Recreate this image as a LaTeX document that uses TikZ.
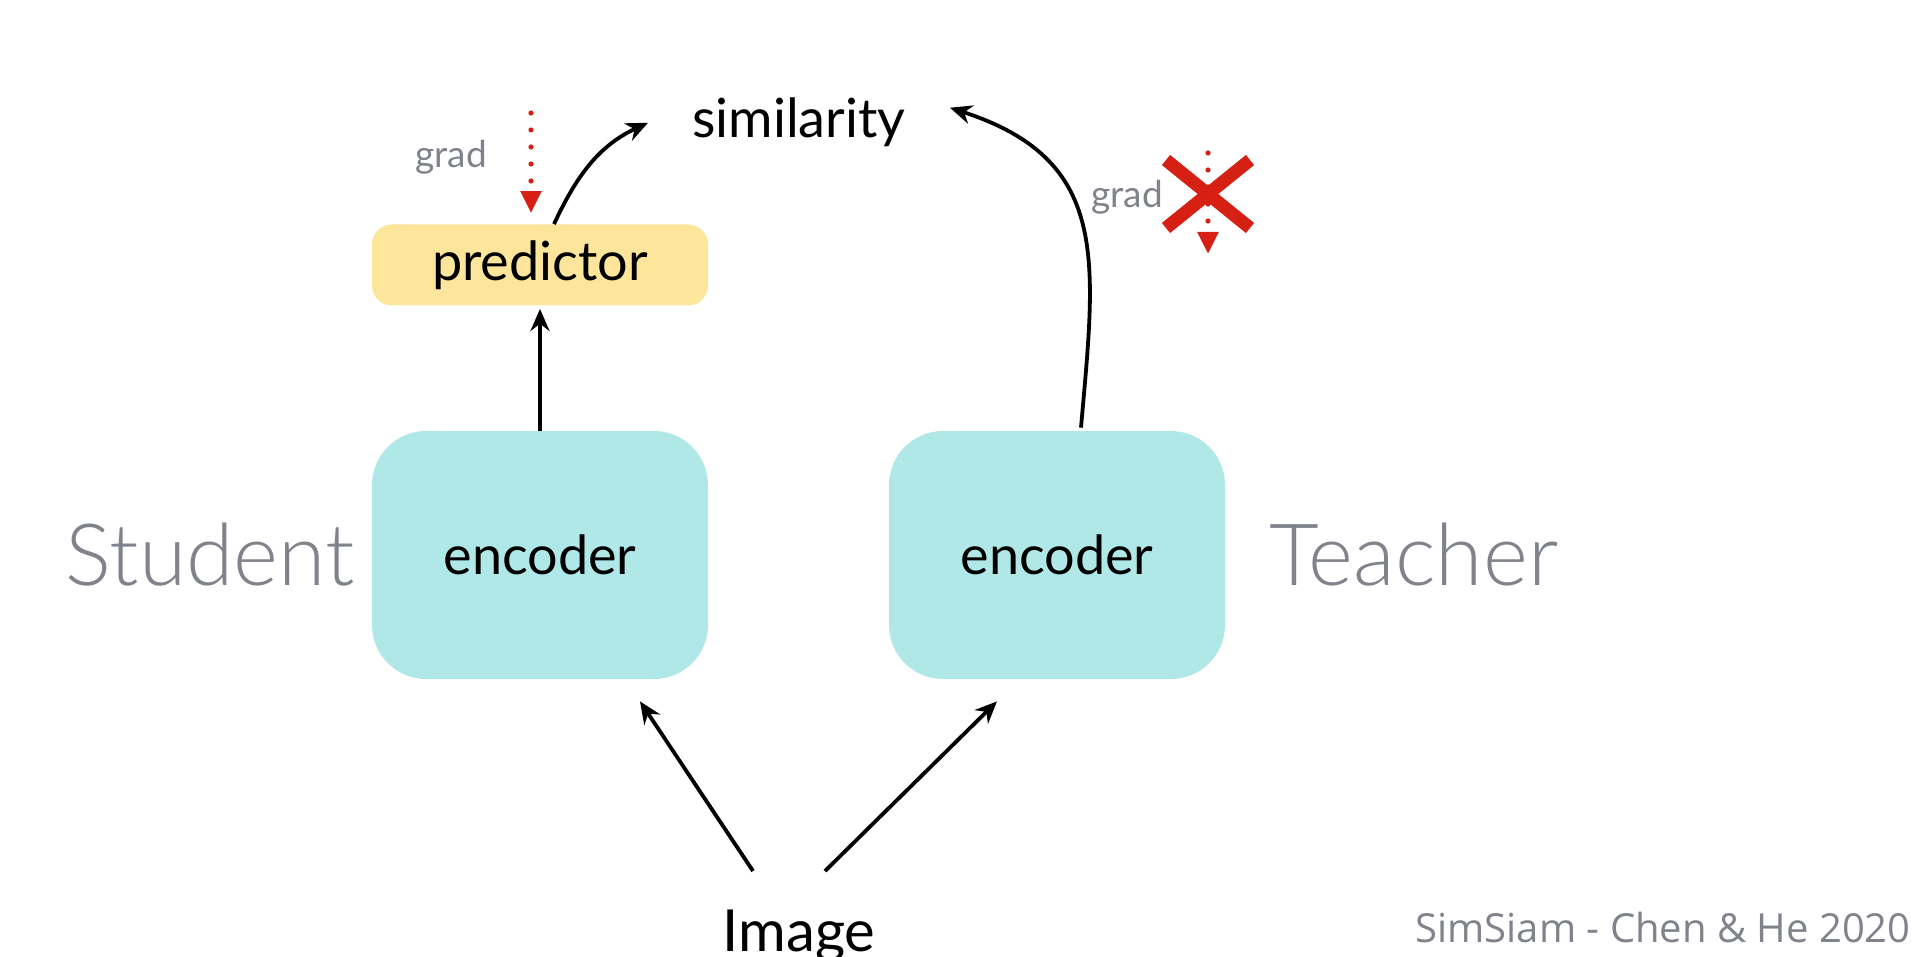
\documentclass[tikz,border=0pt]{standalone}
\usepackage{fontspec}
\setmainfont{Lato}
\newfontfamily\footfont{Open Sans}
\newfontfamily\lightfont{Lato Light}
\usetikzlibrary{arrows.meta,positioning}
\definecolor{encfill}{RGB}{176,231,231}
\definecolor{predfill}{RGB}{253,229,155}
\definecolor{labelgray}{RGB}{128,130,140}
\definecolor{gradred}{RGB}{214,32,20}

\begin{document}
\begin{tikzpicture}
  [x=0.5pt,y=-0.5pt,>={Stealth[length=11pt,width=9.5pt]},
   box/.style={rounded corners=27pt,fill=encfill,minimum width=168pt,minimum height=124pt,
     font=\fontsize{27}{32}\selectfont},
   pred box/.style={box,rounded corners=10pt,fill=predfill,minimum height=40.5pt},
   side label/.style={inner sep=0pt,anchor=base,text=labelgray,font=\lightfont\fontsize{43}{50}\selectfont},
   grad label/.style={inner sep=0pt,anchor=base,text=labelgray,font=\fontsize{18.5}{22}\selectfont},
   flow/.style={->,line width=1.9pt},
   backprop/.style={-{Triangle[length=11pt,width=10pt]},gradred,line width=2.6pt,
     line cap=round,dash pattern=on 0pt off 8.5pt},
   cross/.style={gradred,line width=6.5pt}]

  \useasboundingbox (0,0) rectangle (1918,957);

  % the two branches
  \node [box]      (senc) at (540,555) {encoder};
  \node [box]      (tenc) at (1057,555) {encoder};
  \node [pred box] (pred) at (540,265) {predictor};

  \node [side label] (student) at (210,585) {Student};
  \node [side label] (teacher) at (1414,585) {Teacher};

  \node [inner xsep=22pt,inner ysep=0pt,anchor=base,font=\fontsize{27}{32}\selectfont]
    (sim) at (799,138) {similarity};
  \node [inner sep=0pt,anchor=base,font=\fontsize{29}{34}\selectfont]
    (img) at (799,951) {Image};
  \node [inner sep=0pt,anchor=base east,text=labelgray,font=\footfont\fontsize{20}{24}\selectfont]
    (cite) at (1911,942) {SimSiam - Chen \& He 2020};

  \draw [flow] ([xshift=-23pt,yshift=19pt]img.north) -- ([xshift=50pt,yshift=-11pt]senc.south);
  \draw [flow] ([xshift=13pt,yshift=19pt]img.north) -- ([xshift=-30pt,yshift=-11pt]tenc.south);
  \draw [flow,shorten >=1.5pt] (senc.north) -- (pred.south);
  \draw [flow] ([xshift=7pt]pred.north) to[out=65,in=205] (sim.west);
  \draw [flow] ([xshift=12pt,yshift=1.5pt]tenc.north)
    to[out=85,in=-18,looseness=1.25] ([yshift=7.5pt]sim.east);

  % gradients
  \node [grad label] (gradl) at (451,168) {grad};
  \node [grad label] (gradr) at (1127,208) {grad};
  \coordinate (gl top) at (531,113);
  \coordinate (gr top) at (1208,153);
  \coordinate (gr end) at (1208,254);
  \coordinate (nograd) at (1208,194);
  \draw [backprop] (gl top) -- ([xshift=-4.5pt,yshift=5.5pt]pred.north);
  \draw [backprop] (gr top) -- (gr end);
  \draw [cross] ([shift={(-21pt,17pt)}]nograd) -- ([shift={(21pt,-17pt)}]nograd);
  \draw [cross] ([shift={(21pt,17pt)}]nograd) -- ([shift={(-21pt,-17pt)}]nograd);

\end{tikzpicture}
\end{document}
